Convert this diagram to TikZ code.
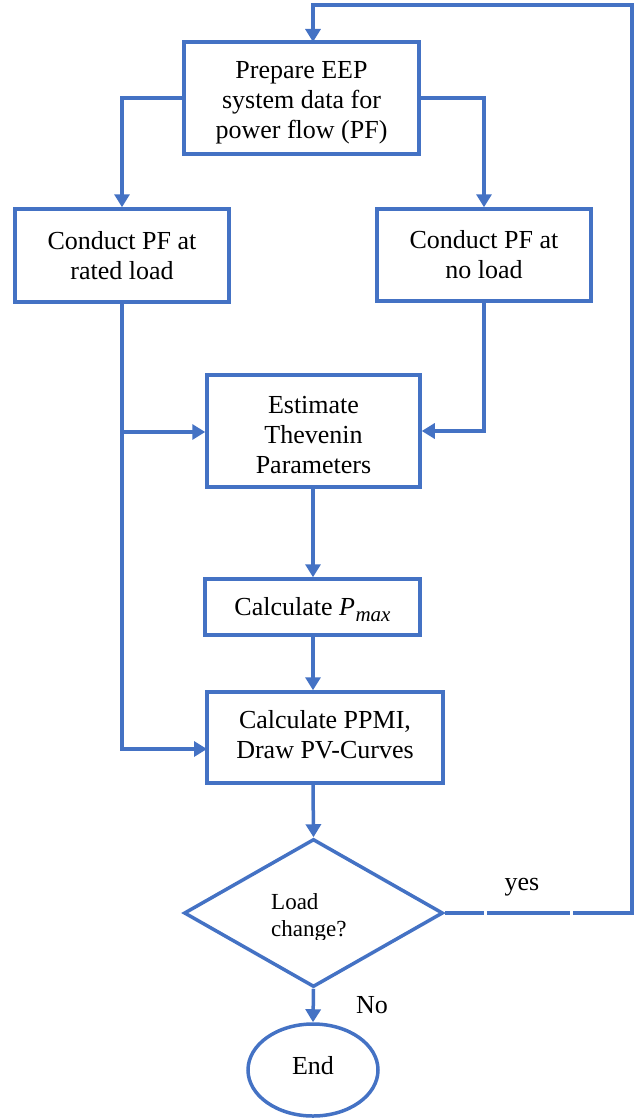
\documentclass[tikz,border=0pt]{standalone}
\usepackage{fontspec}
\setmainfont{Liberation Serif}
\usetikzlibrary{arrows.meta,shapes.geometric,calc}
\definecolor{flowblue}{HTML}{4472C4}
\tikzset{
  boxstyle/.style={draw=flowblue, line width=3.5pt, fill=white, inner sep=0pt,
    align=center, font=\fontsize{26}{30}\selectfont},
  flow/.style={draw=flowblue, line width=3.5pt,
    -{Triangle[length=13pt,width=15pt]}},
  lbl/.style={font=\fontsize{26}{30}\selectfont, inner sep=0pt},
  boxtext/.style={font=\fontsize{26}{30}\selectfont, align=center, inner sep=0pt}
}
\newcommand{\pmaxsym}{\textit{P}\kern0.5pt\raisebox{-6pt}{\fontsize{21}{21}\selectfont\textit{max}}}
\begin{document}
\begin{tikzpicture}[x=1pt,y=-1pt]
\useasboundingbox (0,0) rectangle (633,1118);

% process boxes
\node[boxstyle, minimum width=235pt, minimum height=112pt,
  label={[boxtext, yshift=-5pt]center:Prepare EEP\\system data for\\power flow (PF)}]
  (prep) at (301.5,98) {};
\node[boxstyle, minimum width=214pt, minimum height=93pt] (rated) at (122,255.5)
  {Conduct PF at\\rated load};
\node[boxstyle, minimum width=214pt, minimum height=92pt] (noload) at (484,255)
  {Conduct PF at\\no load};
\node[boxstyle, minimum width=213pt, minimum height=112pt,
  label={[boxtext, yshift=-4pt]center:Estimate\\Thevenin\\Parameters}]
  (thev) at (313.5,431) {};
\node[boxstyle, minimum width=215pt, minimum height=56pt,
  label={[boxtext, yshift=-3pt]center:Calculate \pmaxsym}]
  (pmax) at (312.5,607) {};
\node[boxstyle, minimum width=236pt, minimum height=91pt,
  label={[boxtext, yshift=3pt]center:Calculate PPMI,\\Draw PV-Curves}]
  (ppmi) at (325,737.5) {};

% decision and terminal
\node[draw=flowblue, line width=3.5pt, diamond, inner sep=0pt,
  minimum width=259pt, minimum height=148pt] (dec) at (313.5,913) {};
\begin{scope}
  \clip (180,860) rectangle (420,939);
  \node[font=\fontsize{23}{27}\selectfont, align=left, anchor=west, inner sep=0pt]
    (declbl) at (271,917) {Load\\change?};
\end{scope}
\node[draw=flowblue, line width=3.5pt, ellipse, inner sep=0pt,
  minimum width=130pt, minimum height=92pt] (end) at (313,1070) {};
\node[lbl] (endlbl) at (313,1066) {End};

% branch labels
\node[lbl] (yes) at (522,887) {yes};
\node[lbl] (no) at (372,1005) {No};

% auxiliary points
\coordinate (ppmiin) at (207,749);
\coordinate (split) at (122,432);
\coordinate (rcorner) at (632,913);
\coordinate (rtop) at (632,5);
\coordinate (ltop) at (313,5);
\coordinate (prepin) at (313,42);

% connectors
\draw[flow] (prep.west) -| (rated.north);
\draw[flow] (prep.east) -| (noload.north);
\draw[flow] (rated.south) |- (ppmiin);
\draw[flow] (split) -- (split -| thev.west);
\draw[flow] (noload.south) |- (thev.east);
\draw[flow] (thev.south -| ltop) -- (pmax.north -| ltop);
\draw[flow] (pmax.south -| ltop) -- (ppmi.north -| ltop);
\draw[flow] (ppmi.south -| ltop) -- (dec.north);
\draw[flow] (dec.south) -- (end.north);
\draw[flow, dash pattern=on 39pt off 3pt on 83pt off 3pt on 2000pt off 1pt]
  (dec.east) -- (rcorner) -- (rtop) -- (ltop) -- (prepin);
\end{tikzpicture}
\end{document}
